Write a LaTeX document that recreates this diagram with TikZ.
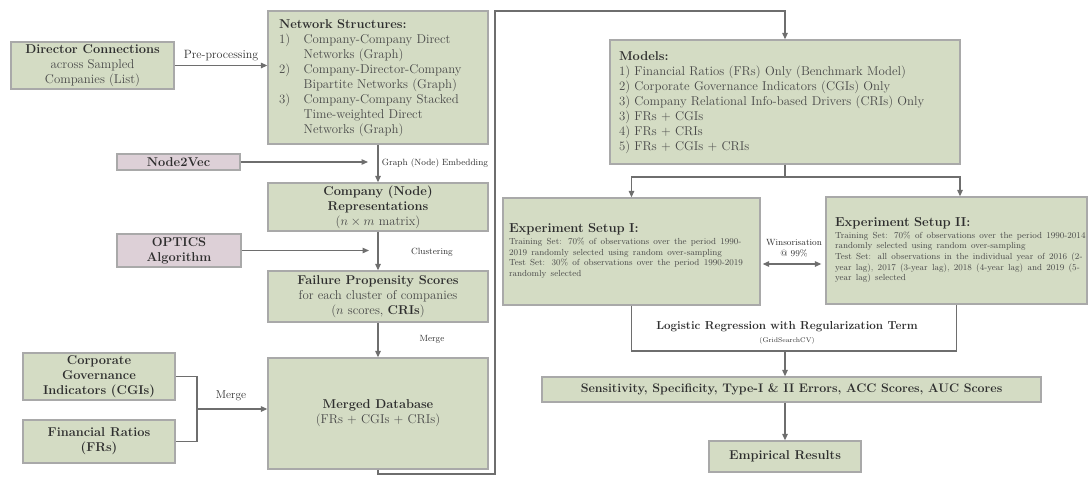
\RequirePackage{fix-cm}
\documentclass[tikz,border=0pt]{standalone}
\usetikzlibrary{arrows.meta,calc}

\definecolor{boxgreen}{HTML}{D4DCC4}
\definecolor{boxpink}{HTML}{DDD0D7}
\definecolor{boxedge}{HTML}{A9A9A9}
\definecolor{linkgray}{HTML}{6E6E6E}
\definecolor{headtext}{HTML}{2E2E2E}
\definecolor{bodytext}{HTML}{484848}

\newcommand\fsbig{\fontsize{12.8}{15}\selectfont}
\newcommand\fstitle{\fontsize{13}{16}\selectfont}
\newcommand\fssmall{\fontsize{8.8}{10.6}\selectfont}
\newcommand\fslabel{\fontsize{9}{10.5}\selectfont}
\newcommand\hd[1]{\textcolor{headtext}{\bfseries #1}}

\tikzset{
  box/.style={draw=boxedge, line width=1.3pt, fill=boxgreen, inner sep=0pt,
    align=center, font=\fsbig, text=bodytext},
  pinkbox/.style={box, fill=boxpink},
  leftbox/.style={box, align=left},
  link/.style={draw=linkgray, line width=1.2pt, -{Triangle[length=6.5pt,width=5.5pt]}},
  bilink/.style={draw=linkgray, line width=1.2pt,
    {Triangle[length=6.5pt,width=5.5pt]}-{Triangle[length=6.5pt,width=5.5pt]}},
  plain/.style={draw=linkgray, line width=1.2pt},
  lbl/.style={font=\fslabel, text=headtext, inner sep=0pt},
}

\begin{document}
\begin{tikzpicture}[x=1pt,y=-1pt]
\useasboundingbox (0,0) rectangle (1089,477);

% ---------------- left column: network data pipeline ----------------
\node[box, minimum width=163pt, minimum height=47pt] (dc) at (92.5,65.5)
  {\hd{Director Connections}\\across Sampled\\Companies (List)};

\node[leftbox, minimum height=133pt, text width=198pt, inner xsep=11pt] (ns) at (378,77.5)
  {\begin{tabular}{@{}l@{\hspace{13.5pt}}l@{}}
   \multicolumn{2}{@{}l@{}}{\hd{Network Structures:}}\\
   1) & Company-Company Direct\\
      & Networks (Graph)\\
   2) & Company-Director-Company\\
      & Bipartite Networks (Graph)\\
   3) & Company-Company Stacked\\
      & Time-weighted Direct\\
      & Networks (Graph)
   \end{tabular}};

\node[pinkbox, minimum width=123pt, minimum height=16pt] (n2v) at (178.5,162) {\hd{Node2Vec}};

\node[box, minimum width=220pt, minimum height=48pt] (cnr) at (378,207)
  {\hd{Company (Node)}\\\hd{Representations}\\($n\times m$ matrix)};

\node[pinkbox, minimum width=124pt, minimum height=33pt] (opt) at (179,250.5)
  {\hd{OPTICS}\\\hd{Algorithm}};

\node[box, minimum width=220pt, minimum height=51pt] (fps) at (378,296.5)
  {\hd{Failure Propensity Scores}\\for each cluster of companies\\($n$ scores, \hd{CRIs})};

\node[box, minimum width=220pt, minimum height=111pt] (mdb) at (378,413.5)
  {\hd{Merged Database}\\(FRs + CGIs + CRIs)};

\node[box, minimum width=152pt, minimum height=47pt] (cgi) at (99,376.5)
  {\hd{Corporate}\\\hd{Governance}\\\hd{Indicators (CGIs)}};

\node[box, minimum width=152pt, minimum height=43pt] (fr) at (99,441.5)
  {\hd{Financial Ratios}\\\hd{(FRs)}};

% ---------------- right column: models and experiments ----------------
\node[leftbox, minimum height=124pt, text width=332pt, inner xsep=9pt] (mod) at (785,102)
  {\begin{tabular}{@{}l@{}}
   \hd{Models:}\\
   1) Financial Ratios (FRs) Only (Benchmark Model)\\
   2) Corporate Governance Indicators (CGIs) Only\\
   3) Company Relational Info-based Drivers (CRIs) Only\\
   3) FRs + CGIs\\
   4) FRs + CRIs\\
   5) FRs + CGIs + CRIs
   \end{tabular}};

\node[leftbox, minimum height=107pt, text width=245pt, inner xsep=6pt] (es1) at (631.5,251.5)
  {{\fstitle\hd{Experiment Setup I:}}\par\vspace{1pt}
   {\fssmall\begin{tabular}{@{}l@{}}
   Training Set: 70\% of observations over the period 1990-\\
   2019 randomly selected using random over-sampling\\
   Test Set: 30\% of observations over the period 1990-2019\\
   randomly selected
   \end{tabular}}};

\node[leftbox, minimum height=107pt, text width=243pt, inner xsep=9pt] (es2) at (956.5,250.5)
  {{\fstitle\hd{Experiment Setup II:}}\par\vspace{1pt}
   {\fssmall\begin{tabular}{@{}l@{}}
   Training Set: 70\% of observations over the period 1990-2014\\
   randomly selected using random over-sampling\\
   Test Set: all observations in the individual year of 2016 (2-\\
   year lag), 2017 (3-year lag), 2018 (4-year lag) and 2019 (5-\\
   year lag) selected
   \end{tabular}}};

\node[box, minimum width=499pt, minimum height=25pt, font=\fontsize{12.4}{14}\selectfont] (sens) at (791.5,389.5)
  {\hd{Sensitivity, Specificity, Type-I \& II Errors, ACC Scores, AUC Scores}};

\node[box, minimum width=152pt, minimum height=31pt] (emp) at (785,456.5)
  {\hd{Empirical Results}};

% ---------------- connectors, left column ----------------
\draw[link] (dc.east) -- (dc.east -| ns.west)
  node[midway, above=4pt, lbl, font=\fontsize{12}{14}\selectfont] (lpre) {Pre-processing};

\draw[link] (ns.south) -- (cnr.north);
\coordinate (n2vend) at (368,162);
\draw[link] (n2v.east) -- (n2vend);
\node[lbl] (lemb) at (435,163) {Graph (Node) Embedding};

\draw[link] (cnr.south) -- (fps.north);
\coordinate (optend) at (369,250.5);
\draw[link] (opt.east) -- (optend);
\node[lbl] (lclu) at (432,252) {Clustering};

\draw[link] (fps.south) -- (mdb.north);
\node[lbl] (lmer) at (432,339) {Merge};

\coordinate (jn) at (197,409);
\draw[plain] (cgi.east) -| (jn) |- (fr.east);
\draw[link] (jn) -- (jn -| mdb.west);
\node[lbl, font=\fontsize{11.5}{13}\selectfont] (lmer2) at (231,396) {Merge};

% ---------------- long link to the models ----------------
\coordinate (rb) at (495,474);
\coordinate (rt) at (495,11);
\draw[link] (mdb.south) |- (rb) -- (rt) -| (mod.north);

% ---------------- connectors, right column ----------------
\coordinate (split) at (785,177);
\draw[plain] (mod.south) -- (split);
\draw[link] (split) -| (es1.north);
\draw[link] (split) -| ([xshift=3.5pt]es2.north);

\coordinate (wl) at ($(es1.east)+(2,12.5)$);
\coordinate (wr) at ($(es2.west)+(-4,13.5)$);
\draw[bilink] (wl) -- (wr);
\node[lbl, align=center] (lwin) at (794,248) {Winsorisation\\@ 99\%};

\coordinate (lrl) at (0,351);
\draw[plain] (es1.south) -- (es1.south |- lrl) -- (es2.south |- lrl) -- (es2.south);
\node[lbl, font=\fontsize{11.6}{13}\selectfont] (lr) at (787,327)
  {\bfseries Logistic Regression with Regularization Term};
\node[lbl, font=\fontsize{6.8}{8}\selectfont] (gs) at (787,341) {(GridSearchCV)};

\coordinate (lrc) at (785,351);
\draw[link] (lrc) -- (lrc |- sens.north);
\draw[link] (sens.south -| emp.north) -- (emp.north);
\end{tikzpicture}
\end{document}
